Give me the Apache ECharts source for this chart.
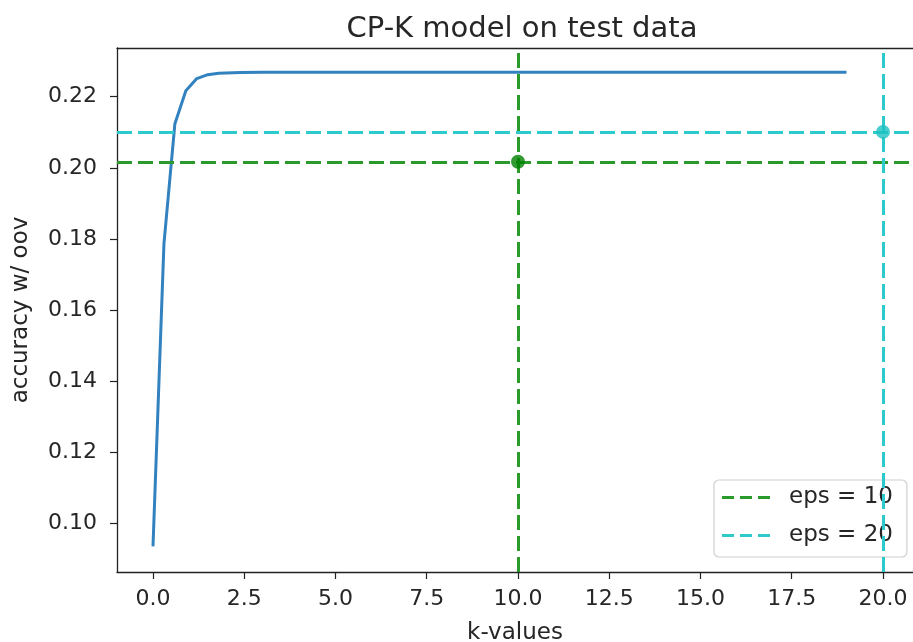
<!DOCTYPE html>
<html><head><meta charset="utf-8">
<script src="https://cdn.jsdelivr.net/npm/echarts@6/dist/echarts.min.js"></script>
<style>html,body{margin:0;padding:0;background:#fff}#c{width:913px;height:642px}</style>
</head><body><div id="c"></div>
<script>
// data
const kValues   = [0, 0.3, 0.6, 0.9, 1.2, 1.5, 1.8, 2.4, 3.0, 5.0, 10.0, 15.0, 19.0];
const accuracy  = [0.0935, 0.1786, 0.2124, 0.2217, 0.2251, 0.2262, 0.2266, 0.2268, 0.2269, 0.2269, 0.2269, 0.2269, 0.2269];
const eps10 = {k: 10, acc: 0.2017};
const eps20 = {k: 20, acc: 0.2101};
const xTicks = [0, 2.5, 5, 7.5, 10, 12.5, 15, 17.5, 20];
const yTicks = [0.10, 0.12, 0.14, 0.16, 0.18, 0.20, 0.22];

const font = 'DejaVu Sans';
const green = '#2a9a2a', cyan = '#2ccaca';
const dash = [15, 6];
const legendIcon = 'path://M0,0h12v3h-12z M18,0h12v3h-12z M36,0h12v3h-12z';
const chart = echarts.init(document.getElementById('c'), null, {renderer: 'canvas'});
chart.setOption({
  animation: false,
  title: {text: 'CP-K model on test data', left: 517, top: 10, textAlign: 'center',
    textStyle: {fontFamily: font, fontSize: 29, fontWeight: 'normal', color: '#262626'}},
  grid: {left: 117, top: 48, right: 0, bottom: 70, show: false, containLabel: false, outerBoundsMode: 'none'},
  xAxis: [{type: 'value', min: -0.986, max: 20.822, name: 'k-values', nameLocation: 'middle', nameGap: 50,
    nameTextStyle: {fontFamily: font, fontSize: 23, color: '#262626'},
    axisLine: {show: true, onZero: false, lineStyle: {color: '#222', width: 1.3}},
    axisTick: {show: true, length: 7, customValues: xTicks, lineStyle: {color: '#222', width: 1.2}},
    axisLabel: {customValues: xTicks, formatter: v => v.toFixed(1), fontFamily: font, fontSize: 22, color: '#262626', margin: 16},
    splitLine: {show: false}},
   {type: 'value', position: 'top', min: -0.986, max: 20.822,
    axisLine: {show: true, onZero: false, lineStyle: {color: '#222', width: 1.3}},
    axisTick: {show: false}, axisLabel: {show: false}, splitLine: {show: false}}],
  yAxis: {type: 'value', min: 0.0863, max: 0.2337, name: 'accuracy w/ oov', nameLocation: 'middle', nameGap: 84,
    nameTextStyle: {fontFamily: font, fontSize: 23, color: '#262626'},
    axisLine: {show: true, onZero: false, lineStyle: {color: '#222', width: 1.3}},
    axisTick: {show: true, length: 7, customValues: yTicks, lineStyle: {color: '#222', width: 1.2}},
    axisLabel: {customValues: yTicks, formatter: v => v.toFixed(2), fontFamily: font, fontSize: 22, color: '#262626', margin: 20},
    splitLine: {show: false}},
  legend: {orient: 'vertical', left: 714, top: 480, itemWidth: 48, itemHeight: 3, itemGap: 15,
    padding: [6, 14, 10, 8], borderColor: '#d0d0d0', borderWidth: 1.2, borderRadius: 5, backgroundColor: 'rgba(255,255,255,0.8)',
    textStyle: {fontFamily: font, fontSize: 23, color: '#262626', padding: [0, 0, 0, 14]},
    data: [{name: 'eps = 10', icon: legendIcon}, {name: 'eps = 20', icon: legendIcon}]},
  series: [
    {name: 'accuracy', type: 'line', data: kValues.map((k, i) => [k, accuracy[i]]), showSymbol: false, symbol: 'none',
      lineStyle: {color: '#3282c0', width: 3}, z: 3},
    {name: 'eps = 10', type: 'line', data: [], symbol: 'none', color: green,
      lineStyle: {color: green, width: 3, type: dash},
      markLine: {silent: true, symbol: 'none', precision: 5, label: {show: false},
        lineStyle: {color: green, width: 3, type: dash, opacity: 1},
        data: [{yAxis: eps10.acc}, {xAxis: eps10.k}]}},
    {name: 'eps = 20', type: 'line', data: [], symbol: 'none', color: cyan,
      lineStyle: {color: cyan, width: 3, type: dash},
      markLine: {silent: true, symbol: 'none', precision: 5, label: {show: false},
        lineStyle: {color: cyan, width: 3, type: dash, opacity: 1},
        data: [{yAxis: eps20.acc}, {xAxis: eps20.k}]}},
    {type: 'scatter', data: [[eps10.k, eps10.acc]], symbolSize: 14, itemStyle: {color: '#008000'}, z: 5},
    {type: 'scatter', data: [[eps20.k, eps20.acc]], symbolSize: 14, itemStyle: {color: '#1cc0c0'}, z: 5}
  ]
});
</script></body></html>
